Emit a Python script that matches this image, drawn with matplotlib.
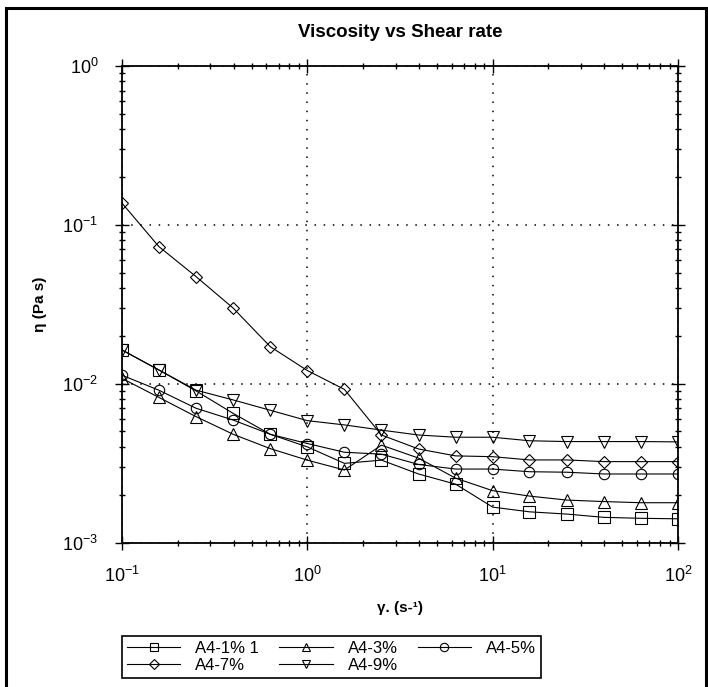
import matplotlib
matplotlib.use("Agg")
import matplotlib.pyplot as plt
from matplotlib.patches import Rectangle
from matplotlib.ticker import LogLocator, NullFormatter

plt.rcParams['font.family'] = ['Liberation Sans', 'DejaVu Sans']
plt.rcParams['mathtext.default'] = 'regular'
plt.rcParams['axes.unicode_minus'] = False

# shear rate (1/s), 5 points per decade
shear = [0.1, 0.158, 0.251, 0.398, 0.631, 1.0, 1.585, 2.512, 3.98, 6.31,
         10.0, 15.8, 25.1, 39.8, 63.1, 100.0]

# viscosity (Pa s)
a4_1 = [0.0163, 0.0122, 0.0090, 0.0065, 0.0048, 0.0040, 0.00315, 0.0033,
        0.0027, 0.00233, 0.00167, 0.00156, 0.00151, 0.00144, 0.00142, 0.00141]
a4_3 = [0.0108, 0.0082, 0.0062, 0.0048, 0.0039, 0.0033, 0.00286, 0.0041,
        0.0034, 0.00254, 0.00212, 0.00196, 0.00185, 0.00181, 0.00178, 0.00178]
a4_5 = [0.0113, 0.0091, 0.0070, 0.0059, 0.0048, 0.0042, 0.0037, 0.0036,
        0.0031, 0.0029, 0.0029, 0.00279, 0.00277, 0.0027, 0.0027, 0.0027]
a4_7 = [0.137, 0.073, 0.0472, 0.0299, 0.0171, 0.0121, 0.0092, 0.00475,
        0.00388, 0.00351, 0.00347, 0.00331, 0.00331, 0.00323, 0.00323, 0.00323]
a4_9 = [0.0163, 0.0122, 0.0091, 0.0079, 0.0068, 0.00585, 0.0055, 0.0051,
        0.00475, 0.0046, 0.0046, 0.00437, 0.00432, 0.00432, 0.00432, 0.0043]

labels = ['A4-1% 1', 'A4-3%', 'A4-5%', 'A4-7%', 'A4-9%']
markers = ['s', '^', 'o', 'D', 'v']
sizes = [8, 8, 7.5, 6, 8]

W, H = 708, 687
fig = plt.figure(figsize=(W / 100, H / 100), dpi=100)
ax = fig.add_axes([122 / W, 1 - 542.5 / H, (678 - 122) / W, (542.5 - 66) / H])

handles = []
for y, lab, m, s in zip([a4_1, a4_3, a4_5, a4_7, a4_9], labels, markers, sizes):
    h, = ax.plot(shear, y, color='black', lw=0.8, marker=m, ms=s,
                 fillstyle='none', mew=0.8, label=lab)
    handles.append(h)

ax.set_xscale('log')
ax.set_yscale('log')
ax.set_xlim(0.1, 100)
ax.set_ylim(1e-3, 1)

ax.xaxis.set_major_locator(LogLocator(base=10, numticks=10))
ax.yaxis.set_major_locator(LogLocator(base=10, numticks=10))
ax.xaxis.set_minor_locator(LogLocator(base=10, subs=range(2, 10), numticks=20))
ax.yaxis.set_minor_locator(LogLocator(base=10, subs=range(2, 10), numticks=20))
ax.xaxis.set_minor_formatter(NullFormatter())
ax.yaxis.set_minor_formatter(NullFormatter())

ax.tick_params(which='both', direction='inout', top=True, right=True,
               labelsize=13, width=1, pad=12)
ax.tick_params(which='major', length=10)
ax.tick_params(which='minor', length=5)
for sp in ax.spines.values():
    sp.set_linewidth(1.3)

ax.grid(True, which='major', color='black', linestyle=(0, (1, 5)), lw=1.1)

ax.set_title('Viscosity vs Shear rate', fontsize=13.5, fontweight='bold', pad=21)
ax.set_xlabel('γ. (s-¹)', fontsize=11, fontweight='bold', labelpad=11)
ax.set_ylabel('η (Pa s)', fontsize=11, fontweight='bold', labelpad=11)

order = [0, 3, 1, 4, 2]
leg = fig.legend([handles[i] for i in order], [labels[i] for i in order],
                 ncol=3, loc='upper left', bbox_to_anchor=(122 / W, 1 - 636 / H),
                 borderaxespad=0, fancybox=False, edgecolor='black',
                 fontsize=12, markerscale=0.8, handlelength=3.2,
                 handletextpad=0.9, columnspacing=1.2, labelspacing=0.1,
                 borderpad=0.3, framealpha=1)
leg.get_frame().set_linewidth(1.2)

# outer border around the whole picture
fig.patches.append(Rectangle((6 / W, -0.05), (706 - 6) / W, 1.05 - 8 / H,
                             transform=fig.transFigure, fill=False,
                             edgecolor='black', lw=2.2))

fig.savefig('out.png', dpi=100)
